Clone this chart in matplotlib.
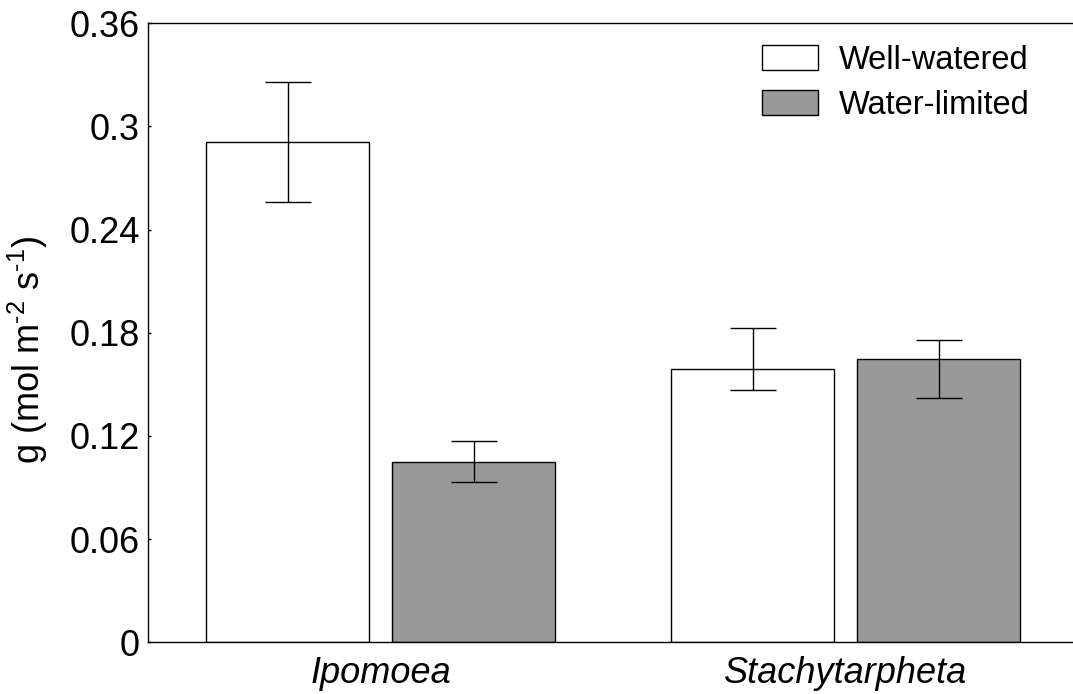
"""Stomatal conductance of two species under two watering treatments."""

import matplotlib

matplotlib.use("Agg")
import matplotlib.pyplot as plt
import numpy as np

plt.rcParams["font.family"] = ["Liberation Sans", "DejaVu Sans"]
plt.rcParams["mathtext.fontset"] = "custom"
plt.rcParams["mathtext.rm"] = "Liberation Sans"

species = ["Ipomoea", "Stachytarpheta"]
treatments = ["Well-watered", "Water-limited"]
well_watered = [0.291, 0.159]
water_limited = [0.105, 0.165]
# asymmetric error bars: (lower, upper)
ww_err_low = [0.035, 0.012]
ww_err_high = [0.035, 0.024]
wl_err_low = [0.012, 0.023]
wl_err_high = [0.012, 0.011]
y_ticks = [0, 0.06, 0.12, 0.18, 0.24, 0.30, 0.36]
y_tick_labels = ["0", "0.06", "0.12", "0.18", "0.24", "0.3", "0.36"]

W, H = 1073, 694
fig = plt.figure(figsize=(W / 100, H / 100), dpi=100)
ax = fig.add_axes([148.3 / W, 51.7 / H, 930 / W, 619 / H])

x = np.arange(len(species))
offset = 0.2
width = 0.35
err_kw = dict(fmt="none", ecolor="black", elinewidth=1.0, capsize=16.9, capthick=1.0, zorder=3)

ax.bar(x - offset, well_watered, width, color="white", edgecolor="black", linewidth=1.0, label=treatments[0], zorder=2)
ax.bar(x + offset, water_limited, width, color="#999999", edgecolor="black", linewidth=1.0, label=treatments[1], zorder=2)
ax.errorbar(x - offset, well_watered, yerr=[ww_err_low, ww_err_high], **err_kw)
ax.errorbar(x + offset, water_limited, yerr=[wl_err_low, wl_err_high], **err_kw)

ax.set_xlim(-0.5, 1.5)
ax.set_ylim(0, 0.36)
ax.set_yticks(y_ticks)
ax.set_yticklabels(y_tick_labels, fontsize=26)
ax.set_xticks(x)
ax.set_xticklabels(species, fontsize=26, fontstyle="italic")
ax.tick_params(axis="y", direction="in", length=2.5, width=1.0, pad=6)
ax.tick_params(axis="x", length=0, pad=10)

for side in ["left", "top", "bottom"]:
    ax.spines[side].set_linewidth(1.0)
ax.spines["right"].set_visible(False)

ax.set_ylabel(r"g (mol m$^{\text{-2}}$ s$^{\text{-1}}$)", fontsize=26)
ax.yaxis.set_label_coords(-0.106, 0.472)

ax.legend(
    loc="upper left",
    bbox_to_anchor=(762 / W, 1 - 45 / H),
    bbox_transform=fig.transFigure,
    frameon=False,
    fontsize=23.5,
    handlelength=1.71,
    handleheight=0.77,
    handletextpad=0.65,
    labelspacing=0.42,
    borderpad=0,
    borderaxespad=0,
)

fig.savefig("out.png", dpi=100)
